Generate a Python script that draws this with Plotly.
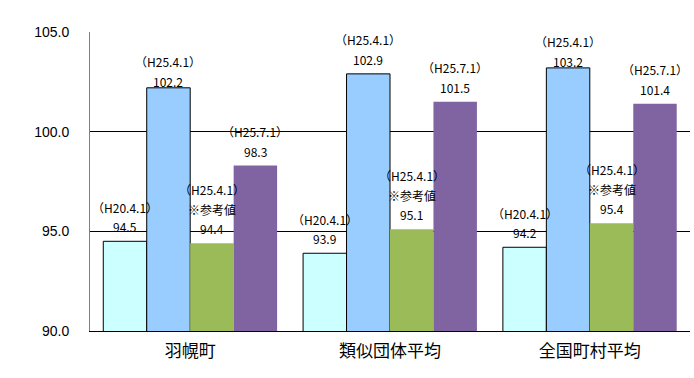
import plotly.graph_objects as go

categories = ["羽幌町", "類似団体平均", "全国町村平均"]
h20_values = [94.5, 93.9, 94.2]
h25_values = [102.2, 102.9, 103.2]
ref_values = [94.4, 95.1, 95.4]
h257_values = [98.3, 101.5, 101.4]

series_names = ["H20.4.1", "H25.4.1", "H25.4.1 参考値", "H25.7.1"]
series_values = [h20_values, h25_values, ref_values, h257_values]
series_labels = [
    ["（H20.4.1）"],
    ["（H25.4.1）"],
    ["（H25.4.1）", "※参考値"],
    ["（H25.7.1）"],
]
colors = ["#CCFFFF", "#99CCFF", "#9BBB59", "#8064A2"]
outlines = [1, 1, 0, 0]

# label lift above bar top (px), per series per category
label_lift = [
    [4, 4, 4],
    [-4, 4, -4],
    [4, 4, 4],
    [4, 4, 4],
]

ytick_vals = [90, 95, 100, 105]

bargap = 0.13
n = len(series_values)
bw = (1 - bargap) / n

fig = go.Figure()
for name, vals, col, ow in zip(series_names, series_values, colors, outlines):
    fig.add_trace(go.Bar(
        name=name, x=categories, y=vals,
        marker=dict(color=col, line=dict(color="black", width=ow)),
        showlegend=False, hoverinfo="skip",
    ))

font_cjk = "Noto Sans CJK JP, sans-serif"
annotations = []
for k, (vals, lines, lifts) in enumerate(zip(series_values, series_labels, label_lift)):
    for i, (v, lift) in enumerate(zip(vals, lifts)):
        xpos = i + (k - (n - 1) / 2) * bw
        all_lines = lines + [f"{v:.1f}"]
        for j, t in enumerate(reversed(all_lines)):
            annotations.append(dict(
                x=xpos, y=v, xref="x", yref="y", text=t, showarrow=False,
                yanchor="bottom", yshift=lift + j * 19.5,
                font=dict(family=font_cjk, size=12, color="black"),
            ))

fig.update_layout(
    width=694, height=378,
    margin=dict(l=90, r=4, t=32, b=47),
    paper_bgcolor="white", plot_bgcolor="white",
    barmode="group", bargap=bargap, bargroupgap=0,
    annotations=annotations,
    xaxis=dict(
        showline=True, linecolor="black", linewidth=1,
        tickfont=dict(family=font_cjk, size=17, color="black"),
        ticks="", ticklabelstandoff=5, automargin=False,
    ),
    yaxis=dict(
        range=[90, 105], tickvals=ytick_vals, tickformat=".1f",
        showgrid=True, gridcolor="black", gridwidth=1,
        showline=True, linecolor="#808080", linewidth=1,
        zeroline=False, ticks="",
        tickfont=dict(family="Liberation Sans, Arial, sans-serif", size=14, color="black"),
        ticklabelstandoff=17, automargin=False,
    ),
)

fig.write_html("out.html", config={"displayModeBar": False},
               post_script="document.body.style.margin='0';document.body.style.padding='0';")
